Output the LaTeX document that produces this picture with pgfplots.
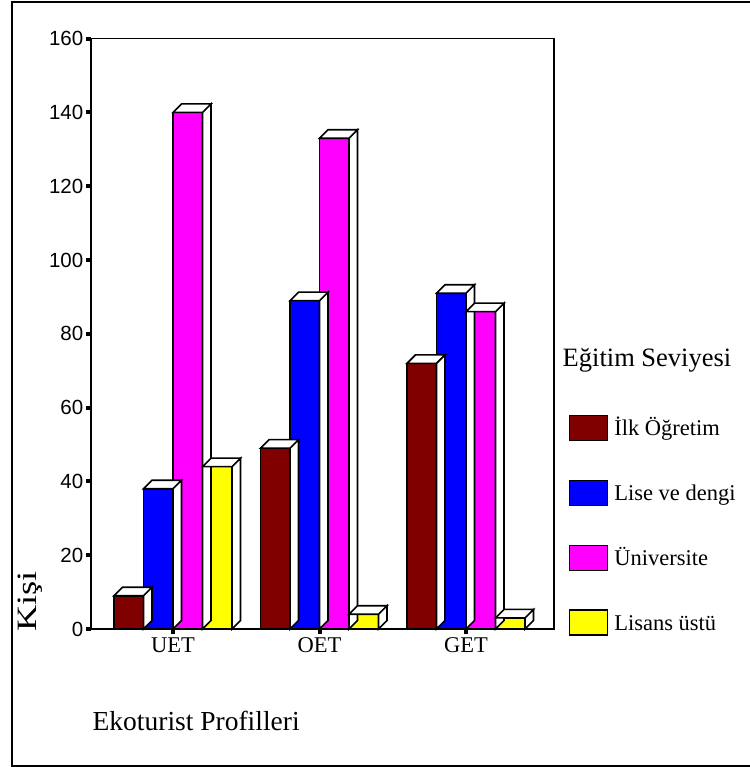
\documentclass[border=0pt]{standalone}
\usepackage{fontspec}
\setmainfont{Liberation Serif}
\setsansfont{Liberation Sans}
\usepackage{pgfplots}
\pgfplotsset{compat=1.18}
\usepackage{pgfplotstable}

\definecolor{ilkc}{HTML}{800000}
\definecolor{lisec}{HTML}{0000FF}
\definecolor{unic}{HTML}{FF00FF}
\definecolor{lisansc}{HTML}{FFFF00}

% number of people per education level and ecotourist profile
\pgfplotstableread{
grp v
UET 9
OET 49
GET 72
}\ilk
\pgfplotstableread{
grp v
UET 38
OET 89
GET 91
}\lise
\pgfplotstableread{
grp v
UET 140
OET 133
GET 86
}\uni
\pgfplotstableread{
grp v
UET 44
OET 4
GET 3
}\lisans

% top and side faces of a 3D bar; the mark sits at the top centre of the front face
\pgfdeclareplotmark{box3d}{%
  \pgfmathsetmacro{\bh}{\val*3.69}%
  \pgfpathmoveto{\pgfqpoint{-14.75pt}{0pt}}%
  \pgfpathlineto{\pgfqpoint{-6.25pt}{8.5pt}}%
  \pgfpathlineto{\pgfqpoint{23.25pt}{8.5pt}}%
  \pgfpathlineto{\pgfqpoint{14.75pt}{0pt}}%
  \pgfpathclose
  \pgfpathmoveto{\pgfqpoint{14.75pt}{0pt}}%
  \pgfpathlineto{\pgfqpoint{23.25pt}{8.5pt}}%
  \pgfpathlineto{\pgfpoint{23.25pt}{8.5pt-\bh pt}}%
  \pgfpathlineto{\pgfpoint{14.75pt}{-\bh pt}}%
  \pgfpathclose
  \pgfusepathqfillstroke
}

\pgfplotsset{
  front/.style 2 args={ybar, bar width=29.5pt, bar shift=#2, fill=#1, draw=black, line width=1.6pt,
    legend image code/.code={\draw[fill=#1, draw=black, line width=1.2pt] (0pt,-5pt) rectangle (38pt,20pt); \path (42pt,0pt);}},
  faces/.style={only marks, mark=box3d, forget plot,
    visualization depends on={\thisrow{v}\as\val},
    mark options={fill=white, draw=black, line width=1.6pt, line join=miter}},
}

\begin{document}
\begin{tikzpicture}
\useasboundingbox (0pt,0pt) rectangle (749pt,-767pt);
\draw[line width=2pt] (752pt,-2pt) -- (12pt,-2pt) -- (12pt,-765.5pt) -- (752pt,-765.5pt);
\begin{axis}[
  at={(91pt,-629pt)}, anchor=south west,
  x=146.5pt, y=3.69pt,
  xmin=-0.56, xmax=2.60, ymin=0, ymax=160,
  clip=false,
  axis line style={line width=1.6pt},
  tick pos=left, tick align=outside, major tick length=5pt,
  tick style={line width=4pt, black},
  xtick={0,1,2}, xticklabels={UET,OET,GET},
  ytick={0,20,...,160},
  xticklabel style={font=\fontsize{22.5}{22.5}\selectfont},
  yticklabel style={font=\fontsize{20.5}{20.5}\sffamily, inner sep=2.5pt},
  /pgf/number format/assume math mode=true,
  ylabel={\scalebox{1.3}[1]{Kişi}},
  every axis y label/.style={at={(axis description cs:-0.1188,-0.0051)}, rotate=90,
    anchor=base west, inner sep=0pt, font=\fontsize{28}{28}\selectfont},
  xlabel={Ekoturist Profilleri},
  every axis x label/.style={at={(axis description cs:0.0032,-0.1711)},
    anchor=base west, inner sep=0pt, font=\fontsize{27.5}{27.5}\selectfont},
  legend style={draw=none, fill=none, inner sep=0pt, outer sep=0pt, row sep=37.3pt,
    at={(axis description cs:1.0324,0.3653)}, anchor=north west,
    font=\fontsize{22.5}{22.5}\selectfont,
    cells={anchor=base west, inner sep=0pt, text height=20pt, text depth=6pt}},
]
\addplot[front={ilkc}{-44.25pt}] table[x expr=\coordindex, y=v] {\ilk};
\addlegendentry{İlk Öğretim}
\addplot[faces] table[x expr=\coordindex-0.30205, y=v] {\ilk};

\addplot[front={lisec}{-14.75pt}] table[x expr=\coordindex, y=v] {\lise};
\addlegendentry{Lise ve dengi}
\addplot[faces] table[x expr=\coordindex-0.10068, y=v] {\lise};

\addplot[front={unic}{14.75pt}] table[x expr=\coordindex, y=v] {\uni};
\addlegendentry{Üniversite}
\addplot[faces] table[x expr=\coordindex+0.10068, y=v] {\uni};

\addplot[front={lisansc}{44.25pt}] table[x expr=\coordindex, y=v] {\lisans};
\addlegendentry{Lisans üstü}
\addplot[faces] table[x expr=\coordindex+0.30205, y=v] {\lisans};
\end{axis}
\node[anchor=base west, inner sep=0pt, font=\fontsize{26.5}{26.5}\selectfont] at (562.5pt,-366.7pt) {Eğitim Seviyesi};
\end{tikzpicture}
\end{document}
